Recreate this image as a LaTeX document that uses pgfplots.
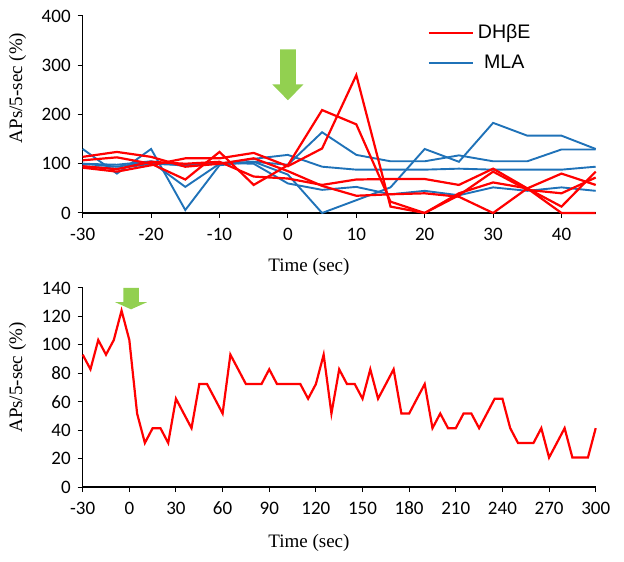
\documentclass[border=0pt]{standalone}
\usepackage{fontspec}
\setmainfont{Liberation Serif}
\newfontfamily\calibri{Carlito}
\newfontfamily\arialf{Liberation Sans}
\usepackage{pgfplots}
\pgfplotsset{compat=1.18}
\definecolor{cred}{RGB}{255,0,0}
\definecolor{cblue}{RGB}{31,114,184}
\definecolor{cgreen}{RGB}{146,208,80}
\pgfplotsset{myaxis/.style={
  scale only axis, width=256.5pt,
  axis x line*=bottom, axis y line*=left,
  tick align=outside, major tick length=2.5pt,
  tick style={black, line width=0.5pt},
  axis line style={black, line width=0.6pt},
  tick label style={font=\calibri\fontsize{9.5}{11}\selectfont},
  xticklabel style={text height=1.5ex, text depth=0pt, yshift=-1pt},
  /pgf/number format/assume math mode=true,
  label style={font=\fontsize{9.5}{11}\selectfont},
  ylabel={APs/5-sec (\%)}, xlabel={Time (sec)},
  clip=false,
}}
\begin{document}
\begin{tikzpicture}
% ---------------- bottom axis ----------------
\begin{axis}[myaxis, height=99.5pt, at={(0,0)}, anchor=south west,
  xmin=-30, xmax=300, ymin=0, ymax=140,
  xtick={-30,0,30,60,90,120,150,180,210,240,270,300},
  ytick={0,20,40,60,80,100,120,140},
  ylabel style={at={(axis description cs:-0.127,0.55)}, anchor=center},
  xlabel style={at={(axis description cs:0.441,0)}, anchor=center, yshift=-28pt},
]
\fill[cgreen] (axis cs:-3.9,140) -- (axis cs:6.1,140) -- (axis cs:6.1,130) -- (axis cs:11.3,130)
  -- (axis cs:1.1,125) -- (axis cs:-9.1,130) -- (axis cs:-3.9,130) -- cycle;
\addplot[cred, line width=1.1pt, mark=none] coordinates {
(-30,93.1) (-25,82.8) (-20,103.4) (-15,93.1) (-10,103.4) (-5,124.1) (0,103.4) (5,51.7)
(10,31.0) (15,41.4) (20,41.4) (25,31.0) (30,62.1) (35,51.7) (40,41.4) (45,72.4)
(50,72.4) (55,62.1) (60,51.7) (65,93.1) (70,82.8) (75,72.4) (80,72.4) (85,72.4)
(90,82.8) (95,72.4) (100,72.4) (105,72.4) (110,72.4) (115,62.1) (120,72.4) (125,93.1)
(130,51.7) (135,82.8) (140,72.4) (145,72.4) (150,62.1) (155,82.8) (160,62.1) (165,72.4)
(170,82.8) (175,51.7) (180,51.7) (185,62.1) (190,72.4) (195,41.4) (200,51.7) (205,41.4)
(210,41.4) (215,51.7) (220,51.7) (225,41.4) (230,51.7) (235,62.1) (240,62.1) (245,41.4)
(250,31.0) (255,31.0) (260,31.0) (265,41.4) (270,20.7) (275,31.0) (280,41.4) (285,20.7)
(290,20.7) (295,20.7) (300,41.4)
};
\end{axis}
% ---------------- top axis ----------------
\begin{axis}[myaxis, height=98.5pt, at={(0,137pt)}, anchor=south west,
  xmin=-30, xmax=45, ymin=0, ymax=400,
  xtick={-30,-20,-10,0,10,20,30,40},
  ytick={0,100,200,300,400},
  ylabel style={at={(axis description cs:-0.127,0.635)}, anchor=center},
  xlabel style={at={(axis description cs:0.441,0)}, anchor=center, yshift=-27pt},
  legend style={draw=none, fill=none, at={(axis description cs:0.66,1.0)}, anchor=north west,
    font=\arialf\fontsize{9.8}{11}\selectfont, row sep=2.5pt},
  legend image code/.code={\draw[#1] (0pt,0pt) -- (17.5pt,0pt); \path (0pt,0pt) -- (22pt,0pt);},
]
\fill[cgreen] (axis cs:-1.15,332) -- (axis cs:1.15,332) -- (axis cs:1.15,261) -- (axis cs:2.27,261)
  -- (axis cs:0,229) -- (axis cs:-2.27,261) -- (axis cs:-1.15,261) -- cycle;
% blue (MLA)
\addplot[cblue, line width=0.95pt, forget plot] coordinates {
(-30,130) (-25,80) (-20,130) (-15,6) (-10,97) (-5,104) (0,78) (5,0) (10,26) (15,52) (20,130) (25,104) (30,183) (35,157) (40,157) (45,130)};
\addplot[cblue, line width=0.95pt, forget plot] coordinates {
(-30,100) (-25,94) (-20,104) (-15,53) (-10,100) (-5,104) (0,98) (5,164) (10,118) (15,105) (20,105) (25,117) (30,105) (35,105) (40,129) (45,129)};
\addplot[cblue, line width=0.95pt, forget plot] coordinates {
(-30,95) (-25,90) (-20,100) (-15,97) (-10,100) (-5,110) (0,118) (5,94) (10,88) (15,88) (20,88) (25,90) (30,88) (35,88) (40,88) (45,94)};
\addplot[cblue, line width=0.95pt, forget plot] coordinates {
(-30,100) (-25,98) (-20,105) (-15,95) (-10,102) (-5,100) (0,60) (5,47) (10,53) (15,38) (20,45) (25,36) (30,52) (35,45) (40,52) (45,45)};
% red (DHbE)
\addplot[cred, line width=1.1pt, forget plot] coordinates {
(-30,114) (-25,124) (-20,114) (-15,94) (-10,100) (-5,111) (0,85) (5,55) (10,35) (15,38) (20,40) (25,33) (30,0) (35,50) (40,80) (45,57)};
\addplot[cred, line width=1.1pt, forget plot] coordinates {
(-30,95) (-25,89) (-20,104) (-15,100) (-10,104) (-5,74) (0,70) (5,57) (10,68) (15,69) (20,69) (25,57) (30,90) (35,50) (40,13) (45,84)};
\addplot[cred, line width=1.1pt, forget plot] coordinates {
(-30,92) (-25,84) (-20,97) (-15,111) (-10,111) (-5,122) (0,95) (5,131) (10,280) (15,13) (20,0) (25,36) (30,84) (35,47) (40,40) (45,72)};
\addplot[cred, line width=1.1pt] coordinates {
(-30,107) (-25,113) (-20,100) (-15,68) (-10,124) (-5,57) (0,97) (5,209) (10,180) (15,23) (20,0) (25,40) (30,62) (35,50) (40,0) (45,0)};
\addlegendentry{DHβE}
\addlegendimage{cblue, line width=1.1pt}
\addlegendentry{MLA}
\end{axis}
\path (-41.35pt,-37pt) rectangle (270.65pt,243.5pt);
\end{tikzpicture}
\end{document}
